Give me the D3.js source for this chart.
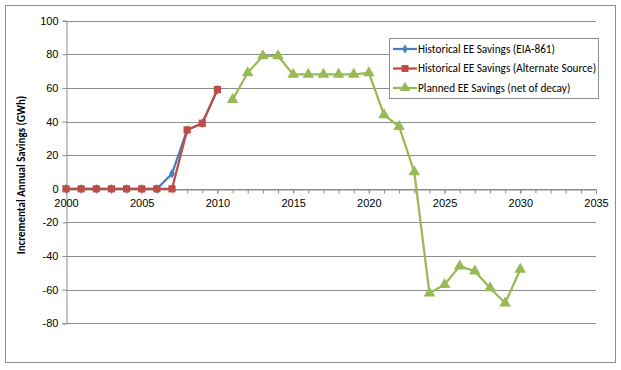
<!DOCTYPE html>
<html>
<head>
<meta charset="utf-8">
<script src="https://cdn.jsdelivr.net/npm/d3@7"></script>
<style>
  html, body { margin: 0; padding: 0; background: #fff; }
  svg { display: block; font-family: Carlito, Calibri, "Liberation Sans", Arial, sans-serif; }
</style>
</head>
<body>
<svg id="chart" width="621" height="370"></svg>
<script>
// Series data (GWh of incremental annual savings by year)
const eiaYears = [2000, 2001, 2002, 2003, 2004, 2005, 2006, 2007, 2008, 2009, 2010];
const eiaValues = [0, 0, 0, 0, 0, 0, 0, 9, 35, 39, 59];

const altYears = [2000, 2001, 2002, 2003, 2004, 2005, 2006, 2007, 2008, 2009, 2010];
const altValues = [0, 0, 0, 0, 0, 0, 0, 0, 35, 39, 59];

const planYears = [2011, 2012, 2013, 2014, 2015, 2016, 2017, 2018, 2019, 2020,
                   2021, 2022, 2023, 2024, 2025, 2026, 2027, 2028, 2029, 2030];
const planValues = [53, 69, 79, 79, 68, 68, 68, 68, 68, 69,
                    44, 37, 10, -62, -57, -46, -49, -59, -68, -48];

const xTicks = [2000, 2005, 2010, 2015, 2020, 2025, 2030, 2035];
const yTicks = [-80, -60, -40, -20, 0, 20, 40, 60, 80, 100];

const seriesNames = [
  "Historical EE Savings (EIA-861)",
  "Historical EE Savings (Alternate Source)",
  "Planned EE Savings (net of decay)"
];

const svg = d3.select("#chart");

// outer chart frame
svg.append("rect")
  .attr("x", 5.5).attr("y", 5.5)
  .attr("width", 610).attr("height", 357)
  .attr("fill", "#fff").attr("stroke", "#8c8c8c").attr("stroke-width", 1);

const x = d3.scaleLinear().domain([2000, 2035]).range([66, 596]);
const y = d3.scaleLinear().domain([-80, 100]).range([323.3, 20.7]);

// plain hyphen for negatives
const fmt = d => String(d);

// horizontal gridlines
svg.append("g")
  .selectAll("line")
  .data(yTicks)
  .join("line")
  .attr("x1", x(2000)).attr("x2", x(2035))
  .attr("y1", d => Math.round(y(d)) + 0.5).attr("y2", d => Math.round(y(d)) + 0.5)
  .attr("stroke", "#8c8c8c").attr("stroke-width", 1);

// y axis
const yAxis = svg.append("g")
  .attr("transform", `translate(${Math.round(x(2000)) + 0.5},0)`)
  .call(d3.axisLeft(y).tickValues(yTicks).tickSize(4).tickPadding(4).tickFormat(fmt));
yAxis.select(".domain").attr("stroke", "#8c8c8c");
yAxis.selectAll(".tick line").attr("stroke", "#8c8c8c");
yAxis.selectAll(".tick text").attr("font-size", 11).attr("fill", "#000");

// x axis at zero, minor ticks every year
const y0 = Math.round(y(0)) + 0.5;
const xMinor = svg.append("g")
  .attr("transform", `translate(0,${y0})`)
  .call(d3.axisBottom(x).tickValues(d3.range(2000, 2036)).tickSize(4).tickFormat(""));
xMinor.select(".domain").attr("stroke", "#8c8c8c");
xMinor.selectAll(".tick line").attr("stroke", "#8c8c8c");

const xAxis = svg.append("g")
  .attr("transform", `translate(0,${y0})`)
  .call(d3.axisBottom(x).tickValues(xTicks).tickSize(4).tickPadding(6).tickFormat(fmt));
xAxis.select(".domain").remove();
xAxis.selectAll(".tick line").attr("stroke", "#8c8c8c");
xAxis.selectAll(".tick text").attr("font-size", 11).attr("fill", "#000");

// y axis title
svg.append("text")
  .attr("transform", `translate(25,${(y(100) + y(-80)) / 2 + 3}) rotate(-90)`)
  .attr("text-anchor", "middle")
  .attr("font-size", 11).attr("font-weight", "bold").attr("fill", "#000")
  .text("Incremental Annual Savings (GWh)");

const line = d3.line().x(d => x(d[0])).y(d => y(d[1]));

const colors = ["#4a7ebb", "#be4b48", "#98b954"];

function drawSeries(years, values, color, symbolType, size) {
  const pts = years.map((yr, i) => [yr, values[i]]);
  const g = svg.append("g");
  g.append("path").datum(pts)
    .attr("d", line)
    .attr("fill", "none").attr("stroke", color).attr("stroke-width", 2.25);
  g.selectAll("path.m").data(pts).join("path")
    .attr("class", "m")
    .attr("transform", d => `translate(${x(d[0])},${y(d[1])})`)
    .attr("d", d3.symbol().type(symbolType).size(size))
    .attr("fill", color);
}

drawSeries(eiaYears, eiaValues, colors[0], d3.symbolDiamond, 28);
drawSeries(altYears, altValues, colors[1], d3.symbolSquare, 52);
drawSeries(planYears, planValues, colors[2], d3.symbolTriangle, 58);

// legend
const legend = svg.append("g");
legend.append("rect")
  .attr("x", 389.5).attr("y", 38.5).attr("width", 209).attr("height", 60)
  .attr("fill", "#fff").attr("stroke", "#8c8c8c");

const legendSymbols = [d3.symbolDiamond, d3.symbolSquare, d3.symbolTriangle];
const legendSizes = [26, 48, 50];
seriesNames.forEach((name, i) => {
  const cy = 49 + i * 19.5;
  legend.append("line")
    .attr("x1", 393).attr("x2", 417).attr("y1", cy).attr("y2", cy)
    .attr("stroke", colors[i]).attr("stroke-width", 2.25);
  legend.append("path")
    .attr("transform", `translate(405,${cy})`)
    .attr("d", d3.symbol().type(legendSymbols[i]).size(legendSizes[i]))
    .attr("fill", colors[i]);
  legend.append("text")
    .attr("x", 418).attr("y", cy + 3.8)
    .attr("font-size", 11.25).attr("fill", "#000")
    .text(name);
});
</script>
</body>
</html>
